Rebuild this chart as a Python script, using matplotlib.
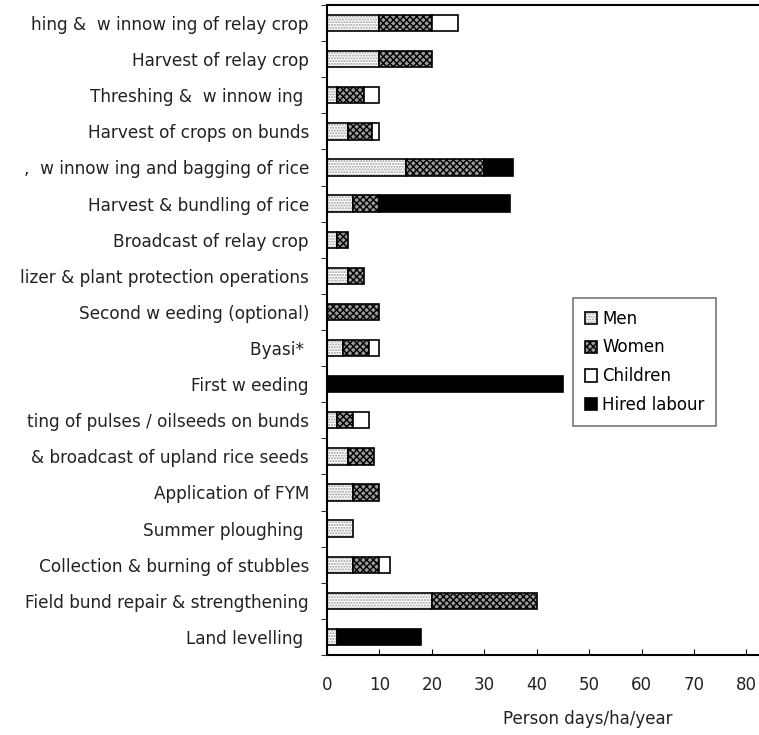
import matplotlib
matplotlib.use('agg')
import matplotlib.pyplot as plt
from matplotlib.patches import Patch
import numpy as np

plt.rcParams['font.family'] = ['DejaVu Sans']
plt.rcParams['hatch.linewidth'] = 1.0

# operations, top to bottom (left part of some labels is cut off in the source)
operations = [
    'hing &  w innow ing of relay crop',
    'Harvest of relay crop',
    'Threshing &  w innow ing ',
    'Harvest of crops on bunds',
    ',  w innow ing and bagging of rice',
    'Harvest & bundling of rice',
    'Broadcast of relay crop',
    'lizer & plant protection operations',
    'Second w eeding (optional)',
    'Byasi* ',
    'First w eeding',
    'ting of pulses / oilseeds on bunds',
    '& broadcast of upland rice seeds',
    'Application of FYM',
    'Summer ploughing ',
    'Collection & burning of stubbles',
    'Field bund repair & strengthening',
    'Land levelling ',
]
men = [10, 10, 2, 4, 15, 5, 2, 4, 0, 3, 0, 2, 4, 5, 5, 5, 20, 2]
women = [10, 10, 5, 4.5, 15, 5, 2, 3, 10, 5, 0, 3, 5, 5, 0, 5, 20, 0]
children = [5, 0, 3, 1.5, 0, 0, 0, 0, 0, 2, 0, 3, 0, 0, 0, 2, 0, 0]
hired = [0, 0, 0, 0, 5.5, 25, 0, 0, 0, 0, 45, 0, 0, 0, 0, 0, 0, 16]

W, H = 759, 735
fig = plt.figure(figsize=(W / 100, H / 100), dpi=100)
ax = fig.add_axes([327 / W, 80 / H, (W - 327) / W, 650 / H])

y = np.arange(len(operations))
h = 0.45
left = np.zeros(len(operations))
series = [
    ('Men', men, dict(facecolor='white', hatch='......', edgecolor='#9a9a9a')),
    ('Women', women, dict(facecolor='#9a9a9a', hatch='xxxxx', edgecolor='black')),
    ('Children', children, dict(facecolor='white', edgecolor='black')),
    ('Hired labour', hired, dict(facecolor='black', edgecolor='black')),
]
handles = []
for name, vals, st in series:
    vals = np.array(vals, dtype=float)
    ax.barh(y, vals, height=h, left=left, linewidth=0, **st)
    # outline each segment in black
    ax.barh(y[vals > 0], vals[vals > 0], height=h, left=left[vals > 0],
            facecolor='none', edgecolor='black', linewidth=1.2)
    left = left + vals
    handles.append((Patch(linewidth=0, **st),
                    Patch(facecolor='none', edgecolor='black', linewidth=1.2)))

ax.set_xlim(0, 82.4)
ax.set_ylim(len(operations) - 0.5, -0.5)
ax.set_xticks(range(0, 90, 10))
ax.set_yticks(y)
ax.set_yticklabels(operations, fontsize=12.2, color='#222222')
ax.set_yticks(np.arange(-0.5, len(operations)), minor=True)
ax.tick_params(axis='y', which='major', length=0, pad=13)
ax.tick_params(axis='y', which='minor', length=4, direction='out')
ax.tick_params(axis='x', labelsize=12, labelcolor='#222222', direction='in', length=4, pad=15)
for s in ['left', 'bottom', 'top']:
    ax.spines[s].set_linewidth(1.5)
ax.spines['right'].set_visible(False)

ax.set_xlabel('Person days/ha/year', fontsize=12, color='#222222')
ax.xaxis.set_label_coords((588 - 327) / (W - 327), -0.085)

leg = ax.legend(handles=handles, labels=[s[0] for s in series], loc='upper left',
                bbox_to_anchor=(573 / W, 1 - 298 / H), bbox_transform=fig.transFigure,
                fontsize=12, fancybox=False, edgecolor='#777777',
                handlelength=0.75, handleheight=0.75, handletextpad=0.3,
                labelspacing=0.65, borderpad=0.7, borderaxespad=0, framealpha=1)
leg.get_frame().set_linewidth(1.2)

fig.savefig('out.png', dpi=100)
